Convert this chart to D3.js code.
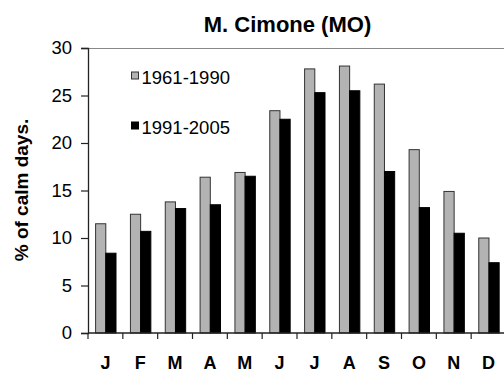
<!DOCTYPE html>
<html>
<head>
<meta charset="utf-8">
<script src="https://cdn.jsdelivr.net/npm/d3@7"></script>
<style>
  body { margin: 0; background: #fff; }
  svg { display: block; font-family: "Liberation Sans", Arial, sans-serif; }
</style>
</head>
<body>
<div class="chart"></div>
<script>
const months = ['J','F','M','A','M','J','J','A','S','O','N','D'];
const series = ['1961-1990', '1991-2005'];
const calm6190 = [11.5, 12.5, 13.8, 16.4, 16.9, 23.4, 27.8, 28.1, 26.2, 19.3, 14.9, 10.0];
const calm9105 = [8.4, 10.7, 13.1, 13.5, 16.5, 22.5, 25.3, 25.5, 17.0, 13.2, 10.5, 7.4];
const yTicks = [0, 5, 10, 15, 20, 25, 30];
const colors = ['#b3b3b3', '#000000'];

const W = 504, H = 372;
const margin = {top: 48, left: 88, bottom: 39, right: -2};
const width = W - margin.left - margin.right;
const height = H - margin.top - margin.bottom;

const svg = d3.select('.chart')
    .append('svg')
    .attr('width', W)
    .attr('height', H)
    .append('g')
    .attr('transform', 'translate(' + margin.left + ',' + margin.top + ')');

// one band per month, index used as key since letters repeat
const xScale = d3.scaleBand()
    .domain(d3.range(months.length))
    .range([0, width])
    .padding(0);

const xInner = d3.scaleBand()
    .domain(series)
    .range([7.6, 28]);

const yScale = d3.scaleLinear()
    .domain([0, 30])
    .range([height, 0]);

// plot area top border
svg.append('line')
    .attr('x1', 0).attr('x2', width)
    .attr('y1', 0.5).attr('y2', 0.5)
    .attr('stroke', '#888').attr('stroke-width', 1);

const data = months.map((m, i) => ({i: i, vals: [calm6190[i], calm9105[i]]}));

const groups = svg.selectAll('.grp')
    .data(data)
    .enter()
    .append('g')
    .attr('class', 'grp')
    .attr('transform', d => 'translate(' + xScale(d.i) + ',0)');

groups.selectAll('rect')
    .data(d => d.vals.map((v, k) => ({s: series[k], v: v, k: k})))
    .enter()
    .append('rect')
    .attr('x', d => xInner(d.s))
    .attr('y', d => yScale(d.v))
    .attr('width', xInner.bandwidth())
    .attr('height', d => height - yScale(d.v))
    .attr('fill', d => colors[d.k])
    .attr('stroke', d => d.k == 0 ? '#333' : '#000')
    .attr('stroke-width', 1);

// y axis
const yAxis = d3.axisLeft(yScale)
    .tickValues(yTicks)
    .tickSize(7)
    .tickPadding(9);

svg.append('g')
    .attr('class', 'y-axis')
    .call(yAxis)
    .call(g => g.select('.domain').attr('stroke', '#222').attr('stroke-width', 1.3))
    .call(g => g.selectAll('.tick line').attr('stroke', '#222').attr('stroke-width', 1.2))
    .call(g => g.selectAll('.tick text')
        .attr('font-size', '18.5px')
        .attr('fill', '#000')
        .attr('font-family', '"Liberation Sans", Arial, sans-serif'));

// x axis: ticks on band boundaries
svg.append('g')
    .attr('class', 'x-axis')
    .attr('transform', `translate(0, ${height})`)
    .call(g => g.append('line')
        .attr('x1', 0).attr('x2', width)
        .attr('stroke', '#222').attr('stroke-width', 1.3))
    .call(g => g.selectAll('.xt')
        .data(d3.range(months.length + 1))
        .enter()
        .append('line')
        .attr('class', 'xt')
        .attr('x1', i => i < months.length ? xScale(i) : width)
        .attr('x2', i => i < months.length ? xScale(i) : width)
        .attr('y1', 0).attr('y2', 6)
        .attr('stroke', '#222').attr('stroke-width', 1.2))
    .call(g => g.selectAll('.xl')
        .data(months)
        .enter()
        .append('text')
        .attr('class', 'xl')
        .attr('x', (d, i) => xScale(i) + xScale.bandwidth() / 2)
        .attr('y', 36)
        .attr('text-anchor', 'middle')
        .attr('font-size', '18px')
        .attr('font-weight', 'bold')
        .text(d => d));

// title
svg.append('text')
    .attr('x', 287.5 - margin.left)
    .attr('y', 31.5 - margin.top)
    .attr('text-anchor', 'middle')
    .attr('font-size', '22px')
    .attr('font-weight', 'bold')
    .text('M. Cimone (MO)');

// y axis title
svg.append('text')
    .attr('transform', 'translate(' + (28 - margin.left) + ',' + (190 - margin.top) + ') rotate(-90)')
    .attr('text-anchor', 'middle')
    .attr('font-size', '19px')
    .attr('font-weight', 'bold')
    .text('% of calm days.');

// legend
const legend = svg.selectAll('.legend')
    .data(series)
    .enter()
    .append('g')
    .attr('class', 'legend')
    .attr('transform', (d, i) => 'translate(' + (131.5 - margin.left) + ',' + (75.5 + i * 50 - margin.top) + ')');

legend.append('rect')
    .attr('x', 0).attr('y', -3.5)
    .attr('width', 7).attr('height', 7)
    .attr('fill', (d, i) => colors[i])
    .attr('stroke', (d, i) => i == 0 ? '#333' : '#000')
    .attr('stroke-width', 1);

legend.append('text')
    .attr('x', 10)
    .attr('y', 8)
    .attr('font-size', '18.5px')
    .text(d => d);
</script>
</body>
</html>
